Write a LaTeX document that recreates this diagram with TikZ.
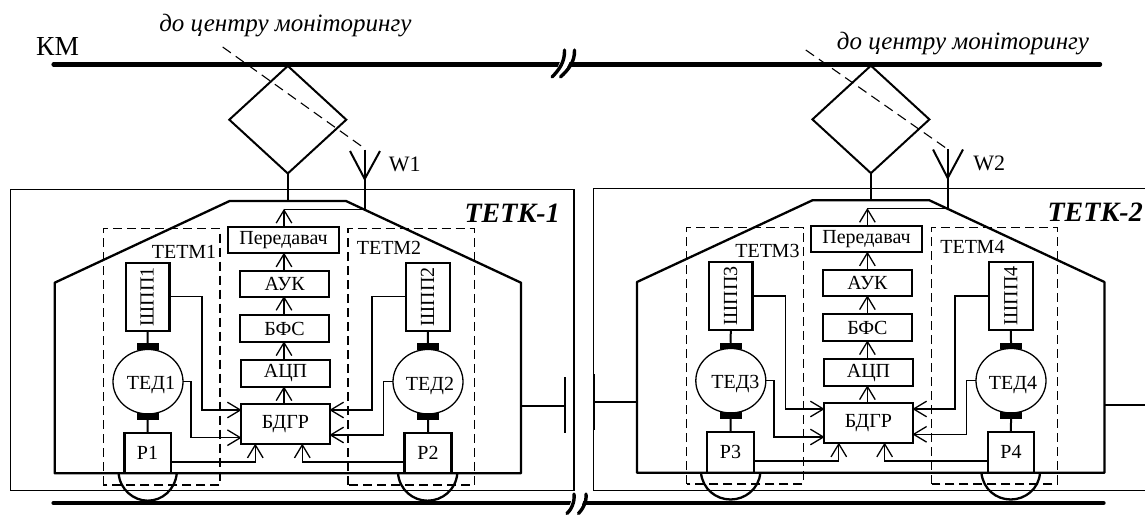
\documentclass[tikz,border=0pt]{standalone}
\usepackage{fontspec}
\setmainfont{Liberation Serif}
\usetikzlibrary{arrows.meta,shapes.geometric}
\pgfarrowsdeclare{openvee}{openvee}{\pgfarrowsleftextend{-13pt}\pgfarrowsrightextend{0.6pt}}{
  \pgfsetdash{}{0pt}\pgfsetmiterjoin
  \pgfpathmoveto{\pgfpoint{-13pt}{7.8pt}}
  \pgfpathlineto{\pgfpointorigin}
  \pgfpathlineto{\pgfpoint{-13pt}{-7.8pt}}
  \pgfusepathqstroke
}
\tikzset{
  every picture/.style={x=1pt,y=-1pt},
  busline/.style={line width=4.4pt,line cap=round},
  slash/.style={line width=3.4pt,line cap=round},
  mid/.style={line width=2pt},
  outline/.style={line width=2.3pt,line join=round},
  frame/.style={line width=1.2pt},
  dash box/.style={line width=1.2pt,dash pattern=on 9pt off 5pt},
  dash lead/.style={line width=1.1pt,dash pattern=on 10pt off 6pt},
  wire/.style={line width=1.3pt,-openvee},
  block/.style={draw,line width=2.3pt,rectangle,inner sep=0pt,outer sep=0pt,font=\fontsize{20}{20}\selectfont},
  motor/.style={draw,line width=1.3pt,ellipse,inner sep=0pt,outer sep=0pt,minimum width=70pt,minimum height=64.5pt},
  brush/.style={fill=black,rectangle,inner sep=0pt,outer sep=0pt,minimum width=22pt,minimum height=6.5pt},
  diam/.style={draw,line width=2pt,diamond,inner sep=0pt,outer sep=0pt,minimum width=117pt,minimum height=107.5pt},
  lab/.style={inner sep=0pt,outer sep=0pt,anchor=base,font=\fontsize{20}{20}\selectfont},
  ital/.style={inner sep=0pt,outer sep=0pt,anchor=base,font=\itshape\fontsize{25}{25}\selectfont},
  tetk/.style={inner sep=0pt,outer sep=0pt,anchor=base,font=\bfseries\itshape\fontsize{28}{28}\selectfont},
}
% name, x1, y1, x2, y2, text
\newcommand{\blk}[6]{\node[block,minimum width=#4pt-#2pt,minimum height=#5pt-#3pt] (#1) at ({(#2+#4)/2},{(#3+#5)/2}) {#6};}
\begin{document}
\begin{tikzpicture}
\useasboundingbox (0,0) rectangle (1145,515);
% frames
\begin{scope}
\clip (0,0) rectangle (1145,515);
\draw[frame] (10.3,189.3) rectangle (574,490.7);
\draw[frame] (593.5,188.3) rectangle (1160,490.2);
\end{scope}
% buses
\coordinate (kml) at (53.6,64.3);
\coordinate (kmr) at (1100,64.3);
\coordinate (rl) at (53.6,503);
\coordinate (rr) at (1103.5,503);
\draw[busline] (kml) -- (kmr);
\draw[busline] (rl) -- (rr);
% breaks
\fill[white] (553,78) -- (566,48) -- (576,48) -- (562,78) -- cycle;
\fill[white] (574,493) -- (567,513) -- (579,513) -- (586,493) -- cycle;
\draw[slash] (552,77) .. controls (559,70) and (565,62) .. (564.5,50);
\draw[slash] (560.5,77) .. controls (568,70) and (575,62) .. (574.5,50);
\draw[slash] (567,513.5) .. controls (571,510) and (575,502) .. (574,494);
\draw[slash] (578.5,513.5) .. controls (582,510) and (587,502) .. (586,494);
% ---- car bodies
\draw[outline] (54.7,473.3) -- (54.7,282.7) -- (229.6,201) -- (346,201) -- (521,282.7) -- (521,473.3) -- cycle;
\draw[outline] (637,472.7) -- (637,282) -- (812.4,200.3) -- (929.4,200.3) -- (1104.4,282) -- (1104.4,472.7) -- cycle;
% ---- dashed zones
\draw[dash box] (103.3,485) -- (103.3,228.7) -- (220,228.7) -- (220,485) -- cycle;
\draw[dash box] (348,485) -- (348,228.7) -- (474.5,228.7) -- (474.5,485) -- cycle;
\draw[dash box] (686.6,484) -- (686.6,227.7) -- (803.2,227.7) -- (803.2,484) -- cycle;
\draw[dash box] (931.6,484) -- (931.6,227.7) -- (1057.7,227.7) -- (1057.7,484) -- cycle;
% ---- wheels
\draw[outline] (118.6,473.3) .. controls (120,490) and (134,500.7) .. (147.7,500.7) .. controls (162,500.7) and (175,490) .. (176.8,473.3);
\draw[outline] (398,473.3) .. controls (399.5,490) and (413,500.7) .. (427.6,500.7) .. controls (442,500.7) and (456,490) .. (457.3,473.3);
\draw[outline] (701,472.7) .. controls (702.5,489) and (716,499.5) .. (730.6,499.5) .. controls (745,499.5) and (759,489) .. (760.3,472.7);
\draw[outline] (981.4,472.7) .. controls (983,489) and (996,499.5) .. (1010.8,499.5) .. controls (1025,499.5) and (1039,489) .. (1040,472.7);
% ---- couplers
\coordinate (bufL) at (565,405.7);
\coordinate (bufLa) at (565,377);
\coordinate (bufLb) at (565,433);
\draw[mid] (521,405.7) -- (bufL);
\draw[outline] (bufLa) -- (bufLb);
\coordinate (bufM) at (594.2,402.3);
\coordinate (bufMa) at (594.2,374.3);
\coordinate (bufMb) at (594.2,430);
\draw[mid] (637,402.3) -- (bufM);
\draw[outline] (bufMa) -- (bufMb);
\coordinate (bufR) at (1145,405);
\draw[mid] (1104.4,405) -- (bufR);
% ---- unit 1 blocks
\blk{tx1}{228}{227}{339}{253.3}{Передавач}
\blk{auk1}{240.3}{270.7}{329}{296.7}{АУК}
\blk{bfs1}{240.3}{315.3}{329}{342}{БФС}
\blk{adc1}{241}{360}{330}{387}{АЦП}
\blk{bdgr1}{241}{404.3}{330}{444.3}{БДГР}
\blk{shp1}{126}{262.7}{169.5}{330.7}{}
\blk{shp2}{406}{262.7}{449.7}{330.7}{}
\blk{r1}{124.4}{432.7}{170.7}{473.3}{Р1}
\blk{r2}{404.5}{432.7}{451.6}{473.3}{Р2}
\node[motor] (m1) at (148,381.7) {};
\node[motor] (m2) at (428,381.7) {};
\node[brush] (b1a) at (147.7,346.7) {};
\node[brush] (b1b) at (147.7,416.5) {};
\node[brush] (b2a) at (428,346.7) {};
\node[brush] (b2b) at (428,416.5) {};
\draw[mid] (shp1.south) -- (b1a.north);
\draw[mid] (b1b.south) -- (r1.north);
\draw[mid] (shp2.south) -- (b2a.north);
\draw[mid] (b2b.south) -- (r2.north);
\node[lab] (t1) at (151,389.3) {ТЕД1};
\node[lab] (t2) at (430,390.5) {ТЕД2};
\node[lab,rotate=90,anchor=center] (s1) at (147,297) {ШПП1};
\node[lab,rotate=90,anchor=center] (s2) at (427.5,297) {ШПП2};
% ---- unit 2 blocks
\blk{tx2}{811}{226}{922}{252.3}{Передавач}
\blk{auk2}{823}{270}{911.8}{296}{АУК}
\blk{bfs2}{823}{314.3}{911.8}{341}{БФС}
\blk{adc2}{824}{359.3}{913}{386}{АЦП}
\blk{bdgr2}{824}{403.3}{913}{443.3}{БДГР}
\blk{shp3}{709}{262}{752.6}{330}{}
\blk{shp4}{989}{262}{1032.8}{330}{}
\blk{r3}{707}{432}{754}{472.7}{Р3}
\blk{r4}{987.7}{432}{1034.2}{472.7}{Р4}
\node[motor] (m3) at (730.8,380.7) {};
\node[motor] (m4) at (1011,380.7) {};
\node[brush] (b3a) at (730.6,346) {};
\node[brush] (b3b) at (730.6,415.7) {};
\node[brush] (b4a) at (1011,346) {};
\node[brush] (b4b) at (1011,415.7) {};
\draw[mid] (shp3.south) -- (b3a.north);
\draw[mid] (b3b.south) -- (r3.north);
\draw[mid] (shp4.south) -- (b4a.north);
\draw[mid] (b4b.south) -- (r4.north);
\node[lab] (t3) at (735.4,388.3) {ТЕД3};
\node[lab] (t4) at (1013,389) {ТЕД4};
\node[lab,rotate=90,anchor=center] (s3) at (730.6,296) {ШПП3};
\node[lab,rotate=90,anchor=center] (s4) at (1010.8,296) {ШПП4};
% ---- unit 1 wiring
\coordinate (top1) at (284,209.5);
\draw[wire] (tx1.north -| top1) -- (top1);
\draw[wire] (auk1.north -| top1) -- (tx1.south -| top1);
\draw[wire] (bfs1.north -| top1) -- (auk1.south -| top1);
\draw[wire] (adc1.north -| top1) -- (bfs1.south -| top1);
\draw[wire] (bdgr1.north -| top1) -- (adc1.south -| top1);
\draw[wire] (shp1.east) -- (202,296.7) -- (202,410) -- (bdgr1.west |- 0,410);
\draw[wire] (m1.east) -- (191,381.7) -- (191,437.7) -- (bdgr1.west |- 0,437.7);
\draw[wire] (r1.east |- 0,462) -- (255.3,462) -- (bdgr1.south -| 255.3,0);
\draw[wire] (r2.west |- 0,462) -- (302.3,462) -- (bdgr1.south -| 302.3,0);
\draw[wire] (shp2.west) -- (372,296.7) -- (372,410) -- (bdgr1.east |- 0,410);
\draw[wire] (m2.west) -- (383.5,381.7) -- (383.5,435) -- (bdgr1.east |- 0,435);
% ---- unit 2 wiring
\coordinate (top2) at (867.4,208.7);
\draw[wire] (tx2.north -| top2) -- (top2);
\draw[wire] (auk2.north -| top2) -- (tx2.south -| top2);
\draw[wire] (bfs2.north -| top2) -- (auk2.south -| top2);
\draw[wire] (adc2.north -| top2) -- (bfs2.south -| top2);
\draw[wire] (bdgr2.north -| top2) -- (adc2.south -| top2);
\draw[wire] (shp3.east) -- (785.6,296) -- (785.6,409) -- (bdgr2.west |- 0,409);
\draw[wire] (m3.east) -- (773.9,380.7) -- (773.9,437) -- (bdgr2.west |- 0,437);
\draw[wire] (r3.east |- 0,461) -- (838.8,461) -- (bdgr2.south -| 838.8,0);
\draw[wire] (r4.west |- 0,461) -- (884.6,461) -- (bdgr2.south -| 884.6,0);
\draw[wire] (shp4.west) -- (955,296) -- (955,409) -- (bdgr2.east |- 0,409);
\draw[wire] (m4.west) -- (966.8,380.7) -- (966.8,434.3) -- (bdgr2.east |- 0,434.3);
% ---- diamonds and antennas
\node[diam] (d1) at (287.8,119.7) {};
\node[diam] (d2) at (870.9,119.4) {};
\coordinate (rf1) at (287.8,201);
\coordinate (rf2) at (870.9,200.3);
\draw[mid] (d1.south) -- (rf1);
\draw[mid] (d2.south) -- (rf2);
\coordinate (an1) at (364.7,179);
\coordinate (an1t) at (364.7,149.5);
\coordinate (an1l) at (350,151);
\coordinate (an1r) at (380,151);
\coordinate (an1b) at (364.7,209.5);
\draw[mid] (an1t) -- (an1b);
\draw[line width=1.3pt] (an1b) -- (top1);
\draw[mid] (an1l) -- (an1) -- (an1r);
\coordinate (an2) at (947.7,178);
\coordinate (an2t) at (947.7,149);
\coordinate (an2l) at (933,149.5);
\coordinate (an2r) at (963,149.5);
\coordinate (an2b) at (947.7,208.7);
\draw[mid] (an2t) -- (an2b);
\draw[line width=1.3pt] (an2b) -- (top2);
\draw[mid] (an2l) -- (an2) -- (an2r);
\coordinate (le1) at (222.7,47);
\coordinate (le2) at (805.8,50);
\draw[dash lead] (le1) -- (363.6,147.7);
\draw[dash lead] (le2) -- (945.9,148);
% ---- labels
\node[lab,font=\fontsize{27.5}{27.5}\selectfont] (km) at (57.6,55.7) {КМ};
\node[ital] (c1) at (285.4,31.7) {до центру моніторингу};
\node[ital] (c2) at (963,49) {до центру моніторингу};
\node[lab,font=\fontsize{22}{22}\selectfont] (w1) at (404.7,171.7) {W1};
\node[lab,font=\fontsize{22}{22}\selectfont] (w2) at (989.2,170) {W2};
\node[lab] (z1) at (184,258) {ТЕТМ1};
\node[lab] (z2) at (389,254) {ТЕТМ2};
\node[lab] (z3) at (767.4,257.7) {ТЕТМ3};
\node[lab] (z4) at (972.4,253.3) {ТЕТМ4};
\node[tetk] (n1) at (512.2,222.7) {ТЕТК-1};
\node[tetk] (n2) at (1095.2,221.7) {ТЕТК-2};
\end{tikzpicture}
\end{document}
